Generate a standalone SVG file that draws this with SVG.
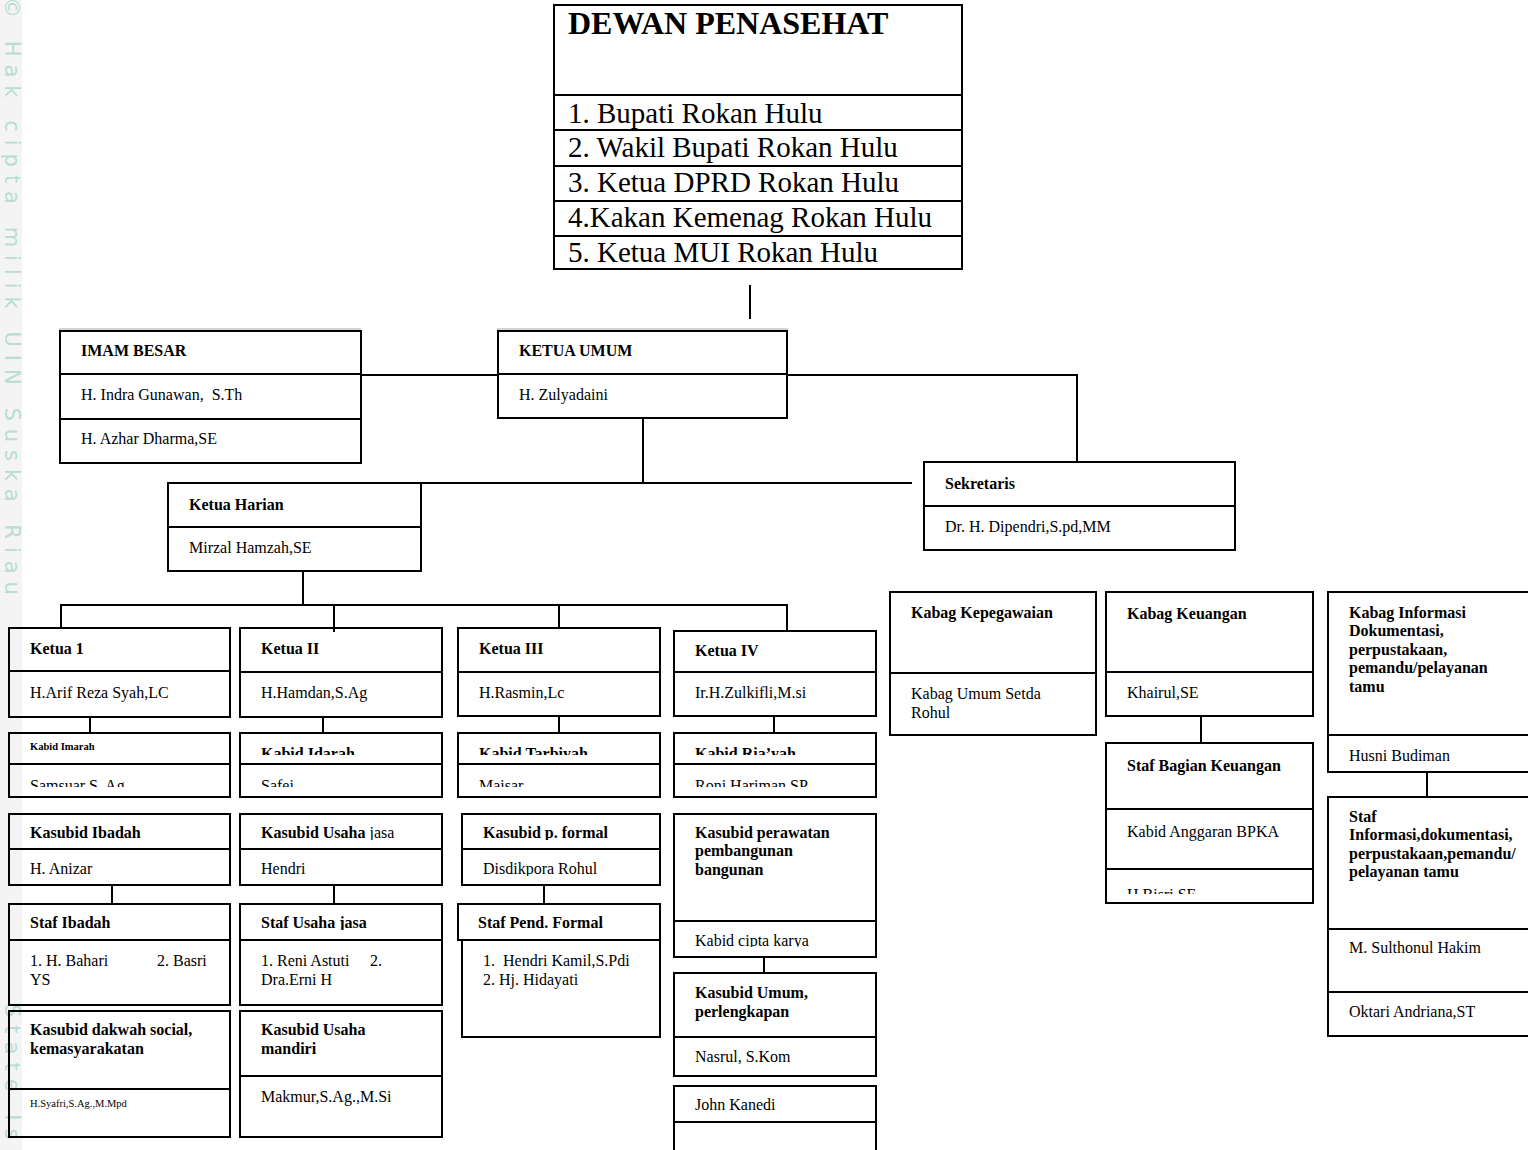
<svg xmlns="http://www.w3.org/2000/svg" width="1528" height="1150" viewBox="0 0 1528 1150">
<defs>
<style>
.bx{fill:none;stroke:#000;stroke-width:2}
.dv{stroke:#000;stroke-width:2}
.cn{fill:none;stroke:#000;stroke-width:2}
.t{font-family:"Liberation Serif","Times New Roman",serif;font-size:16px;fill:#000}
.b{font-weight:bold}
.s{font-size:10.5px}
.d{font-size:29px}
.dt{font-size:32px;font-weight:bold}
.wm{font-family:"DejaVu Sans",sans-serif;font-size:21px;letter-spacing:8px;fill:#b9ddd0}
.gl{stroke:#c4c4c4;stroke-width:1.5}
</style>
<clipPath id="c1"><rect x="0" y="700" width="1528" height="87"/></clipPath>
<clipPath id="c2"><rect x="0" y="700" width="1528" height="55"/></clipPath>
<clipPath id="c3"><rect x="0" y="850" width="1528" height="26"/></clipPath>
<clipPath id="c4"><rect x="0" y="800" width="1528" height="40"/></clipPath>
<clipPath id="c5"><rect x="0" y="900" width="1528" height="30"/></clipPath>
<clipPath id="c6"><rect x="0" y="920" width="1528" height="27"/></clipPath>
<clipPath id="c7"><rect x="0" y="870" width="1528" height="24"/></clipPath>
</defs>
<rect x="0" y="0" width="1528" height="1150" fill="#fff"/>
<g id="watermark">
<rect x="0" y="0" width="22" height="1150" fill="#f4f4f4"/>
<text class="wm" transform="translate(5,0) rotate(90)" x="-3" y="0">© Hak cipta milik UIN Suska Riau</text>
<text class="wm" transform="translate(5,0) rotate(90)" x="1004" y="0">State Is</text>
<line class="gl" x1="59" y1="329" x2="361" y2="329"/>
<line class="gl" x1="497" y1="329" x2="788" y2="329"/>
</g>
<g id="connectors">
<path class="cn" d="M750 285V319"/>
<path class="cn" d="M361 375H498"/>
<path class="cn" d="M787 375H1077V462"/>
<path class="cn" d="M643 418V483"/>
<path class="cn" d="M421 483H912"/>
<path class="cn" d="M303 571V605"/>
<path class="cn" d="M61 628V605H787V631"/>
<path class="cn" d="M334 605V632"/>
<path class="cn" d="M559 605V628"/>
<path class="cn" d="M90 717V733"/>
<path class="cn" d="M323 717V733"/>
<path class="cn" d="M559 716V733"/>
<path class="cn" d="M774 716V733"/>
<path class="cn" d="M112 885V904"/>
<path class="cn" d="M334 885V904"/>
<path class="cn" d="M544 885V904"/>
<path class="cn" d="M764 957V973"/>
<path class="cn" d="M1201 716V743"/>
<path class="cn" d="M1427 772V797"/>
</g>
<g id="dewan-penasehat">
<rect class="bx" x="554" y="5" width="408" height="264"/>
<line class="dv" x1="554" y1="95" x2="962" y2="95"/>
<line class="dv" x1="554" y1="130" x2="962" y2="130"/>
<line class="dv" x1="554" y1="166" x2="962" y2="166"/>
<line class="dv" x1="554" y1="201" x2="962" y2="201"/>
<line class="dv" x1="554" y1="236" x2="962" y2="236"/>
<text class="t dt" x="568" y="34">DEWAN PENASEHAT</text>
<text class="t d" x="568" y="123">1. Bupati Rokan Hulu</text>
<text class="t d" x="568" y="157">2. Wakil Bupati Rokan Hulu</text>
<text class="t d" x="568" y="192">3. Ketua DPRD Rokan Hulu</text>
<text class="t d" x="568" y="227">4.Kakan Kemenag Rokan Hulu</text>
<text class="t d" x="568" y="262">5. Ketua MUI Rokan Hulu</text>
</g>
<g id="imam-besar">
<rect class="bx" x="60" y="331" width="301" height="132"/>
<line class="dv" x1="60" y1="374" x2="361" y2="374"/>
<line class="dv" x1="60" y1="419" x2="361" y2="419"/>
<text class="t b" x="81" y="356">IMAM BESAR</text>
<text class="t" x="81" y="400" xml:space="preserve">H. Indra Gunawan,  S.Th</text>
<text class="t" x="81" y="444">H. Azhar Dharma,SE</text>
</g>
<g id="ketua-umum">
<rect class="bx" x="498" y="331" width="289" height="87"/>
<line class="dv" x1="498" y1="374" x2="787" y2="374"/>
<text class="t b" x="519" y="356">KETUA UMUM</text>
<text class="t" x="519" y="400">H. Zulyadaini</text>
</g>
<g id="sekretaris">
<rect class="bx" x="924" y="462" width="311" height="88"/>
<line class="dv" x1="924" y1="506" x2="1235" y2="506"/>
<text class="t b" x="945" y="489">Sekretaris</text>
<text class="t" x="945" y="532">Dr. H. Dipendri,S.pd,MM</text>
</g>
<g id="ketua-harian">
<rect class="bx" x="168" y="483" width="253" height="88"/>
<line class="dv" x1="168" y1="527" x2="421" y2="527"/>
<text class="t b" x="189" y="510">Ketua Harian</text>
<text class="t" x="189" y="553">Mirzal Hamzah,SE</text>
</g>
<g id="ketua-1">
<rect class="bx" x="9" y="628" width="221" height="89"/>
<line class="dv" x1="9" y1="671" x2="230" y2="671"/>
<text class="t b" x="30" y="654">Ketua 1</text>
<text class="t" x="30" y="698">H.Arif Reza Syah,LC</text>
</g>
<g id="kabid-imarah">
<rect class="bx" x="9" y="733" width="221" height="64"/>
<line class="dv" x1="9" y1="764" x2="230" y2="764"/>
<text class="t b s" x="30" y="750">Kabid Imarah</text>
<text class="t" x="30" y="791" clip-path="url(#c1)">Samsuar S. Ag</text>
</g>
<g id="ketua-2">
<rect class="bx" x="240" y="628" width="202" height="89"/>
<line class="dv" x1="240" y1="672" x2="442" y2="672" stroke-width="3"/>
<text class="t b" x="261" y="654">Ketua II</text>
<text class="t" x="261" y="698">H.Hamdan,S.Ag</text>
</g>
<g id="kabid-idarah">
<rect class="bx" x="240" y="733" width="202" height="64"/>
<line class="dv" x1="240" y1="764" x2="442" y2="764"/>
<text class="t b" x="261" y="759" clip-path="url(#c2)">Kabid Idarah</text>
<text class="t" x="261" y="791" clip-path="url(#c1)">Safei</text>
</g>
<g id="ketua-3">
<rect class="bx" x="458" y="628" width="202" height="88"/>
<line class="dv" x1="458" y1="672" x2="660" y2="672"/>
<text class="t b" x="479" y="654">Ketua III</text>
<text class="t" x="479" y="698">H.Rasmin,Lc</text>
</g>
<g id="kabid-tarbiyah">
<rect class="bx" x="458" y="733" width="202" height="64"/>
<line class="dv" x1="458" y1="764" x2="660" y2="764"/>
<text class="t b" x="479" y="759" clip-path="url(#c2)">Kabid Tarbiyah</text>
<text class="t" x="479" y="791" clip-path="url(#c1)">Maisar</text>
</g>
<g id="ketua-4">
<rect class="bx" x="674" y="631" width="202" height="85"/>
<line class="dv" x1="674" y1="672" x2="876" y2="672"/>
<text class="t b" x="695" y="656">Ketua IV</text>
<text class="t" x="695" y="698">Ir.H.Zulkifli,M.si</text>
</g>
<g id="kabid-riayah">
<rect class="bx" x="674" y="733" width="202" height="64"/>
<line class="dv" x1="674" y1="764" x2="876" y2="764"/>
<text class="t b" x="695" y="759" clip-path="url(#c2)">Kabid Ria’yah</text>
<text class="t" x="695" y="791" clip-path="url(#c1)">Roni Hariman SP</text>
</g>
<g id="kasubid-ibadah">
<rect class="bx" x="9" y="814" width="221" height="71"/>
<line class="dv" x1="9" y1="849" x2="230" y2="849"/>
<text class="t b" x="30" y="838">Kasubid Ibadah</text>
<text class="t" x="30" y="874">H. Anizar</text>
</g>
<g id="staf-ibadah">
<rect class="bx" x="9" y="904" width="221" height="101"/>
<line class="dv" x1="9" y1="940" x2="230" y2="940"/>
<text class="t b" x="30" y="928">Staf Ibadah</text>
<text class="t" x="30" y="966">1. H. Bahari</text>
<text class="t" x="157" y="966">2. Basri</text>
<text class="t" x="30" y="985">YS</text>
</g>
<g id="kasubid-dakwah">
<rect class="bx" x="9" y="1011" width="221" height="126"/>
<line class="dv" x1="9" y1="1089" x2="230" y2="1089"/>
<text class="t b" x="30" y="1035">Kasubid dakwah social,</text>
<text class="t b" x="30" y="1054">kemasyarakatan</text>
<text class="t s" x="30" y="1107">H.Syafri,S.Ag.,M.Mpd</text>
</g>
<g id="kasubid-usaha-jasa">
<rect class="bx" x="240" y="814" width="202" height="71"/>
<line class="dv" x1="240" y1="849" x2="442" y2="849"/>
<text class="t" x="261" y="838" clip-path="url(#c4)"><tspan class="b">Kasubid Usaha</tspan> jasa</text>
<text class="t" x="261" y="874">Hendri</text>
</g>
<g id="staf-usaha-jasa">
<rect class="bx" x="240" y="904" width="202" height="101"/>
<line class="dv" x1="240" y1="940" x2="442" y2="940"/>
<text class="t b" x="261" y="928" clip-path="url(#c5)">Staf Usaha jasa</text>
<text class="t" x="261" y="966">1. Reni Astuti</text>
<text class="t" x="370" y="966">2.</text>
<text class="t" x="261" y="985">Dra.Erni H</text>
</g>
<g id="kasubid-usaha-mandiri">
<rect class="bx" x="240" y="1011" width="202" height="126"/>
<line class="dv" x1="240" y1="1076" x2="442" y2="1076"/>
<text class="t b" x="261" y="1035">Kasubid Usaha</text>
<text class="t b" x="261" y="1054">mandiri</text>
<text class="t" x="261" y="1102">Makmur,S.Ag.,M.Si</text>
</g>
<g id="kasubid-p-formal">
<rect class="bx" x="462" y="814" width="198" height="71"/>
<line class="dv" x1="462" y1="849" x2="660" y2="849"/>
<text class="t b" x="483" y="838" clip-path="url(#c4)">Kasubid p. formal</text>
<text class="t" x="483" y="874" clip-path="url(#c3)">Disdikpora Rohul</text>
</g>
<g id="staf-pend-formal">
<rect class="bx" x="458" y="904" width="202" height="36"/>
<rect class="bx" x="462" y="940" width="198" height="97"/>
<text class="t b" x="478" y="928">Staf Pend. Formal</text>
<text class="t" x="483" y="966" xml:space="preserve">1.  Hendri Kamil,S.Pdi</text>
<text class="t" x="483" y="985">2. Hj. Hidayati</text>
</g>
<g id="kasubid-perawatan">
<rect class="bx" x="674" y="814" width="202" height="143"/>
<line class="dv" x1="674" y1="921" x2="876" y2="921"/>
<text class="t b" x="695" y="838">Kasubid perawatan</text>
<text class="t b" x="695" y="856">pembangunan</text>
<text class="t b" x="695" y="875">bangunan</text>
<text class="t" x="695" y="946" clip-path="url(#c6)">Kabid cipta karya</text>
</g>
<g id="kasubid-umum">
<rect class="bx" x="674" y="973" width="202" height="103"/>
<line class="dv" x1="674" y1="1037" x2="876" y2="1037"/>
<text class="t b" x="695" y="998">Kasubid Umum,</text>
<text class="t b" x="695" y="1017">perlengkapan</text>
<text class="t" x="695" y="1062">Nasrul, S.Kom</text>
</g>
<g id="john-kanedi">
<rect class="bx" x="674" y="1086" width="202" height="80"/>
<line class="dv" x1="674" y1="1122" x2="876" y2="1122"/>
<text class="t" x="695" y="1110">John Kanedi</text>
</g>
<g id="kabag-kepegawaian">
<rect class="bx" x="890" y="592" width="206" height="143"/>
<line class="dv" x1="890" y1="673" x2="1096" y2="673"/>
<text class="t b" x="911" y="618">Kabag Kepegawaian</text>
<text class="t" x="911" y="699">Kabag Umum Setda</text>
<text class="t" x="911" y="718">Rohul</text>
</g>
<g id="kabag-keuangan">
<rect class="bx" x="1106" y="592" width="207" height="124"/>
<line class="dv" x1="1106" y1="672" x2="1313" y2="672"/>
<text class="t b" x="1127" y="619">Kabag Keuangan</text>
<text class="t" x="1127" y="698">Khairul,SE</text>
</g>
<g id="staf-bagian-keuangan">
<rect class="bx" x="1106" y="743" width="207" height="160"/>
<line class="dv" x1="1106" y1="809" x2="1313" y2="809"/>
<line class="dv" x1="1106" y1="869" x2="1313" y2="869"/>
<text class="t b" x="1127" y="771">Staf Bagian Keuangan</text>
<text class="t" x="1127" y="837">Kabid Anggaran BPKA</text>
<text class="t" x="1127" y="900" clip-path="url(#c7)">H Bisri SE</text>
</g>
<g id="kabag-informasi">
<rect class="bx" x="1328" y="592" width="215" height="180"/>
<line class="dv" x1="1328" y1="735" x2="1543" y2="735"/>
<text class="t b" x="1349" y="618">Kabag Informasi</text>
<text class="t b" x="1349" y="636">Dokumentasi,</text>
<text class="t b" x="1349" y="655">perpustakaan,</text>
<text class="t b" x="1349" y="673">pemandu/pelayanan</text>
<text class="t b" x="1349" y="692">tamu</text>
<text class="t" x="1349" y="761">Husni Budiman</text>
</g>
<g id="staf-informasi">
<rect class="bx" x="1328" y="797" width="215" height="239"/>
<line class="dv" x1="1328" y1="929" x2="1543" y2="929"/>
<line class="dv" x1="1328" y1="992" x2="1543" y2="992"/>
<text class="t b" x="1349" y="822">Staf</text>
<text class="t b" x="1349" y="840">Informasi,dokumentasi,</text>
<text class="t b" x="1349" y="859">perpustakaan,pemandu/</text>
<text class="t b" x="1349" y="877">pelayanan tamu</text>
<text class="t" x="1349" y="953">M. Sulthonul Hakim</text>
<text class="t" x="1349" y="1017">Oktari Andriana,ST</text>
</g>
</svg>
